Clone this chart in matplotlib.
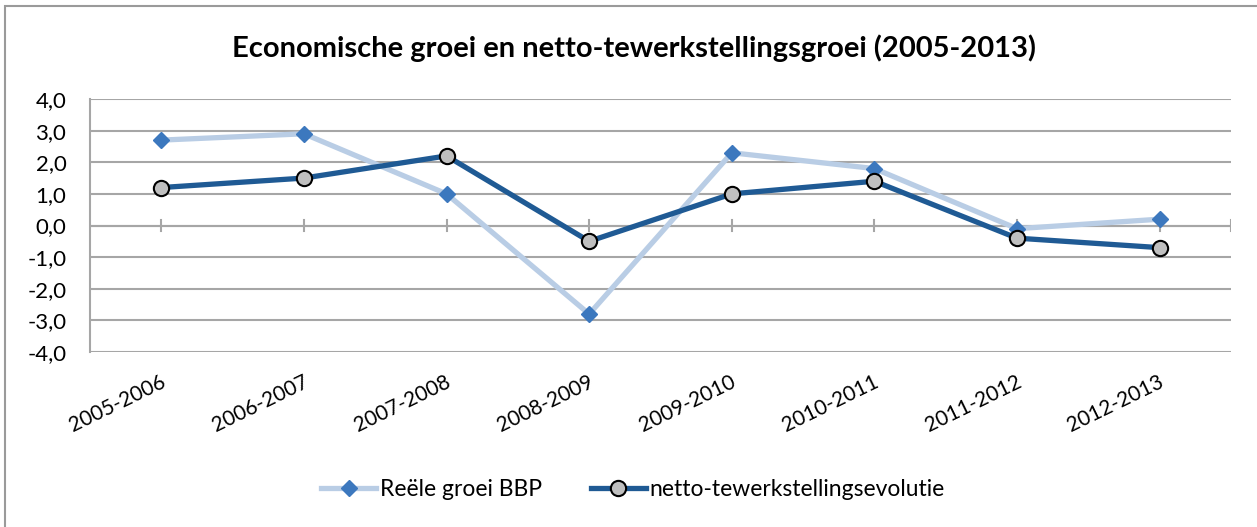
import matplotlib
matplotlib.use("Agg")
import matplotlib.pyplot as plt
from matplotlib.patches import Rectangle
from matplotlib.lines import Line2D

plt.rcParams['font.family'] = ['Lato', 'DejaVu Sans']

periods = ['2005-2006', '2006-2007', '2007-2008', '2008-2009',
           '2009-2010', '2010-2011', '2011-2012', '2012-2013']
bbp = [2.7, 2.9, 1.0, -2.8, 2.3, 1.8, -0.1, 0.2]
netto = [1.2, 1.5, 2.2, -0.5, 1.0, 1.4, -0.4, -0.7]
yticks = [-4, -3, -2, -1, 0, 1, 2, 3, 4]

W, H = 1257, 527
fig = plt.figure(figsize=(W / 100, H / 100), dpi=100)

# outer chart border (cut on the right/bottom like the screenshot)
fig.patches.append(Rectangle((5 / W, -0.1), 1.2, 1 - 6 / H + 0.1, transform=fig.transFigure,
                             fill=False, edgecolor='#9a9a9a', lw=1.5))

ax = fig.add_axes([90 / W, 1 - 352 / H, (1231 - 90) / W, 253 / H])

x = list(range(len(periods)))
ax.plot(x, bbp, color='#B9CDE5', lw=3.8, marker='D', ms=8.5,
        mfc='#3C78BE', mec='#3C78BE', zorder=3, label='Reële groei BBP')
ax.plot(x, netto, color='#1F5A94', lw=3.8, marker='o', ms=11,
        mfc='#BFBFBF', mec='black', mew=1.5, zorder=4, label='netto-tewerkstellingsevolutie')

ax.set_xlim(-0.5, len(periods) - 0.5)
ax.set_ylim(-4, 4)
ax.set_yticks(yticks)
ax.set_yticklabels([f'{v:.1f}'.replace('.', ',') for v in yticks], fontsize=16)
ax.yaxis.grid(True, color='#A6A6A6', lw=1.5)
ax.set_axisbelow(True)
ax.tick_params(axis='y', length=0, pad=17)

for s in ['top', 'right', 'bottom']:
    ax.spines[s].set_visible(False)
ax.spines['left'].set_color('#A6A6A6')
ax.spines['left'].set_linewidth(1.5)

# x axis sits at zero with small crossing ticks
ax.axhline(0, color='#A6A6A6', lw=1.5, zorder=1)
for xt in x + [len(periods) - 0.5]:
    ax.plot([xt, xt], [-0.18, 0.18], color='#A6A6A6', lw=1.5, zorder=1)

ax.set_xticks(x)
ax.set_xticklabels([])
ax.tick_params(axis='x', length=0)
for xi, lab in zip(x, periods):
    ax.annotate(lab, xy=(xi, -4), xycoords='data', xytext=(3, -29), textcoords='offset pixels',
                rotation=26, rotation_mode='anchor', ha='right', va='center', fontsize=15)

fig.text(0.504, 1 - 48 / H, 'Economische groei en netto-tewerkstellingsgroei (2005-2013)',
         ha='center', va='center', fontsize=21, fontweight='bold')

handles = [Line2D([], [], color='#B9CDE5', lw=3.8, marker='D', ms=8.5, mfc='#3C78BE', mec='#3C78BE'),
           Line2D([], [], color='#1F5A94', lw=3.8, marker='o', ms=11, mfc='#BFBFBF', mec='black', mew=1.5)]
fig.legend(handles, ['Reële groei BBP', 'netto-tewerkstellingsevolutie'], loc='center',
           bbox_to_anchor=(633 / W, 1 - 490 / H), ncol=2, frameon=False, fontsize=16.5,
           handlelength=2.4, handletextpad=0.18, columnspacing=2.1)

fig.savefig('out.png', dpi=100)
